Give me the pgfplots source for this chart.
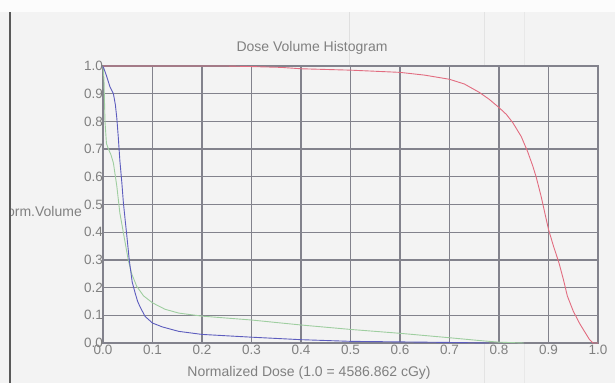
\documentclass[border=0pt]{standalone}
\usepackage{fontspec}
\setmainfont{Liberation Sans}
\usepackage{pgfplots}
\pgfplotsset{compat=1.18}
\definecolor{bggray}{RGB}{243,243,243}
\definecolor{bgwhite}{RGB}{252,252,252}
\definecolor{txtgray}{RGB}{128,128,128}
\definecolor{gridgray}{RGB}{130,130,140}
\definecolor{dvhred}{RGB}{226,108,128}
\definecolor{dvhblue}{RGB}{92,92,190}
\definecolor{dvhgreen}{RGB}{158,206,160}
\begin{document}
\begin{tikzpicture}[x=1pt,y=1pt]
\path[use as bounding box] (0,0) rectangle (615,383);
\fill[bgwhite] (0,0) rectangle (615,383);
\fill[bggray] (0,0) rectangle (615,371);
\draw[gray!25, line width=0.8pt] (349,317) -- (349,371);
\draw[gray!22, line width=0.8pt] (484,0) -- (484,371);
\draw[gray!18, line width=0.8pt] (524,0) -- (524,371);
\begin{axis}[
  at={(103pt,40pt)}, anchor=south west,
  scale only axis, width=495pt, height=277pt,
  xmin=0, xmax=1, ymin=0, ymax=1,
  xtick={0,0.1,0.2,0.3,0.4,0.5,0.6,0.7,0.8,0.9,1.0},
  ytick={0,0.1,0.2,0.3,0.4,0.5,0.6,0.7,0.8,0.9,1.0},
  major tick length=0pt,
  grid=major,
  grid style={gridgray, line width=1.2pt},
  axis line style={gridgray, line width=1.2pt},
  axis background/.style={fill=bggray},
  /pgf/number format/.cd, fixed, fixed zerofill, precision=1, assume math mode=true,
  /pgfplots/.cd,
  tick label style={font=\fontsize{13.5}{15}\selectfont, text=txtgray},
  xticklabel style={anchor=north, inner sep=0pt, yshift=-2pt},
  yticklabel style={anchor=east, inner sep=0pt, xshift=0pt},
  clip=false,
]
\addplot[dvhgreen, line width=0.9pt] coordinates {
(0,1.0) (0.002,0.95) (0.004,0.80) (0.007,0.72) (0.011,0.70) (0.016,0.68)
(0.021,0.65) (0.028,0.565) (0.034,0.47) (0.041,0.40) (0.051,0.30)
(0.058,0.25) (0.068,0.205) (0.082,0.17) (0.1,0.145) (0.125,0.122)
(0.153,0.108) (0.2,0.097) (0.3,0.083) (0.4,0.065) (0.5,0.049)
(0.6,0.035) (0.7,0.019) (0.76,0.009) (0.8,0.003) (0.85,0.0)
};
\addplot[dvhblue, line width=0.9pt] coordinates {
(0,1.0) (0.007,0.965) (0.014,0.925) (0.021,0.9) (0.025,0.86) (0.028,0.81)
(0.031,0.74) (0.034,0.66) (0.038,0.58) (0.041,0.51) (0.045,0.44)
(0.048,0.39) (0.053,0.30) (0.059,0.22) (0.065,0.18) (0.07,0.15)
(0.075,0.13) (0.085,0.096) (0.1,0.072) (0.12,0.058) (0.153,0.042)
(0.2,0.031) (0.3,0.021) (0.4,0.012) (0.5,0.006) (0.6,0.004)
(0.7,0.002) (0.78,0.0)
};
\addplot[dvhred, line width=0.9pt] coordinates {
(0,1.0) (0.25,1.0) (0.3,0.998) (0.36,0.995) (0.4,0.99) (0.5,0.985)
(0.6,0.977) (0.65,0.967) (0.7,0.952) (0.73,0.935) (0.76,0.905)
(0.78,0.88) (0.8,0.85) (0.815,0.825) (0.828,0.795) (0.845,0.745)
(0.858,0.69) (0.868,0.64) (0.875,0.60) (0.885,0.53) (0.9,0.41)
(0.91,0.35) (0.921,0.29) (0.93,0.23) (0.938,0.17) (0.95,0.115)
(0.963,0.07) (0.975,0.035) (0.983,0.012) (0.99,0.0) (1.0,0.0)
};
\end{axis}
\node[text=txtgray, font=\fontsize{14}{16}\selectfont] at (312,335) {Dose Volume Histogram};
\node[text=txtgray, font=\fontsize{14}{16}\selectfont] at (309,10) {Normalized Dose (1.0 = 4586.862 cGy)};
\node[text=txtgray, font=\fontsize{14}{16}\selectfont, anchor=east, inner sep=0pt] at (82,172) {Norm.Volume};
\fill[bggray] (0,0) rectangle (9.4,371);
\fill[bgwhite] (0,371) rectangle (9.4,383);
\draw[gray!70!black, line width=1.1pt] (10,0) -- (10,371);
\end{tikzpicture}
\end{document}
